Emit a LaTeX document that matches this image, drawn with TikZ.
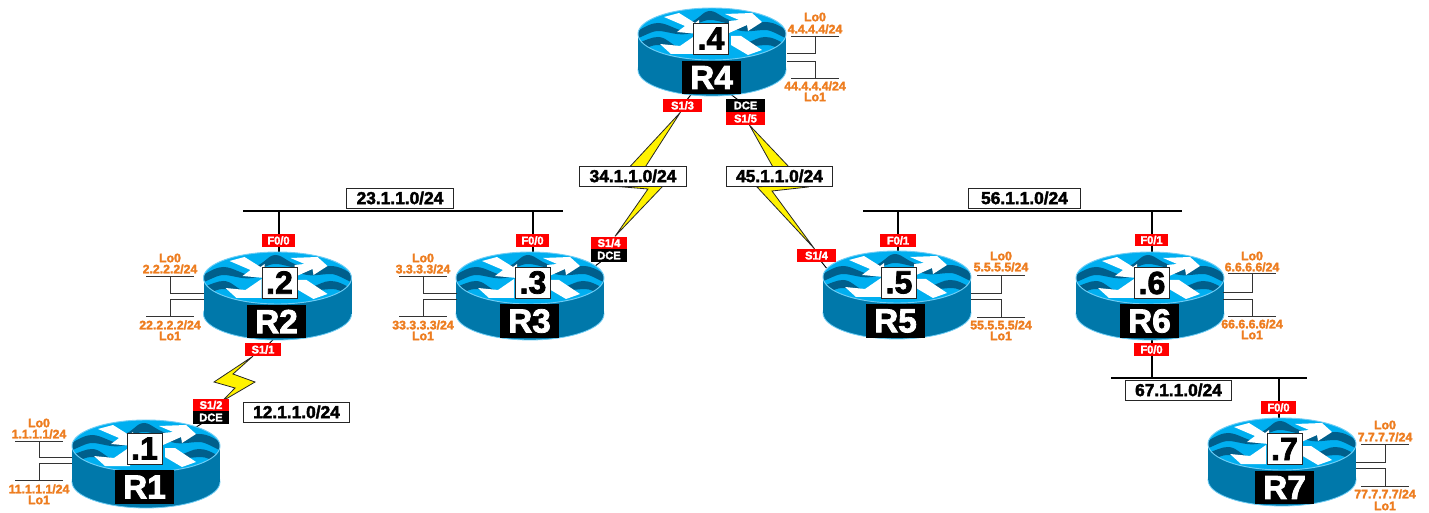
\documentclass[tikz,border=0pt]{standalone}
\usepackage{fontspec}
\usetikzlibrary{calc, backgrounds}
\setmainfont{Liberation Sans}
\newfontfamily\heavyfont[BoldFeatures={FakeBold=2.4}]{Liberation Sans}
\definecolor{rim}{RGB}{110, 205, 245}
\definecolor{body}{RGB}{0, 120, 170}
\definecolor{sky}{RGB}{0, 175, 240}
\definecolor{wave}{RGB}{0, 95, 140}
\definecolor{loop}{RGB}{237, 125, 32}
\tikzset{
  wire/.style={color=black!80, line width=0.65pt},
  lan/.style={color=black, line width=1.5pt},
  stub/.style={color=black, line width=0.7pt},
  bolt/.style={fill=yellow, draw=black!85, line width=0.6pt, line join=miter},
  tagbox/.style={fill=red, text=white, inner sep=0pt, minimum width=27pt, minimum height=9.6pt,
    font=\heavyfont\bfseries\fontsize{8.3}{8.3}\selectfont},
  tagwide/.style={tagbox, minimum width=29.2pt},
  tagthin/.style={tagbox, minimum width=25pt},
  dcebox/.style={tagbox, fill=black},
  dcewide/.style={tagwide, fill=black},
  netbox/.style={fill=white, draw=black!85, line width=0.7pt, inner sep=0pt, minimum width=80pt, minimum height=15pt,
    font=\heavyfont\bfseries\fontsize{13}{13}\selectfont},
  dotbox/.style={fill=white, draw=black!85, line width=0.5pt, inner sep=0pt, minimum width=26.2pt, minimum height=23.2pt,
    font=\heavyfont\bfseries\fontsize{24}{24}\selectfont},
  namebox/.style={fill=black, text=white, inner sep=0pt, minimum width=44.2pt, minimum height=25pt,
    font=\heavyfont\bfseries\fontsize{25}{25}\selectfont},
  lolabel/.style={text=loop, inner sep=0pt, font=\heavyfont\bfseries\fontsize{9.2}{9.2}\selectfont},
}
\newcommand{\routerbody}[2]{
  \begin{scope}[shift={(#1, #2)}]
    \draw[rim, fill=body, line width=0.6pt] (0, 36) ellipse (74 and 26);
    \fill[body] (-74, 0) rectangle (74, 36);
    \fill[sky] (0, 0) ellipse (74 and 26);
    \begin{scope}
      \clip (0, 0) ellipse (74 and 26);
      \fill[wave] (-26, -10) .. controls (-12, -14) and (-10, -23) .. (-2, -23)
        .. controls (6, -23) and (10, -14) .. (28, -11)
        .. controls (12, -9) and (8, -14) .. (-2, -14)
        .. controls (-10, -14) and (-12, -9) .. cycle;
      \fill[wave] (-76, -2) .. controls (-66, -8) and (-60, -11) .. (-54, -11)
        .. controls (-44, -11) and (-36, -3) .. (-20, -1)
        .. controls (-34, 3) and (-44, -3) .. (-54, -3)
        .. controls (-60, -3) and (-68, 2) .. (-76, 5) -- cycle;
      \fill[wave] (76, -2) .. controls (68, -9) and (60, -12) .. (53, -12)
        .. controls (42, -12) and (34, -8) .. (20, -6)
        .. controls (32, 0) and (42, -4) .. (53, -4)
        .. controls (60, -4) and (68, 2) .. (76, 5) -- cycle;
      \fill[wave] (-76, 10) .. controls (-66, 6) and (-60, 3) .. (-54, 3)
        .. controls (-46, 3) and (-42, 10) .. (-32, 14)
        .. controls (-42, 18) and (-46, 11) .. (-54, 11)
        .. controls (-60, 11) and (-64, 13) .. (-67, 16) -- cycle;
      \fill[wave] (76, 12) .. controls (66, 6) and (60, 3) .. (53, 3)
        .. controls (46, 3) and (42, 7) .. (33, 9)
        .. controls (38, 14) and (46, 11) .. (55, 11)
        .. controls (60, 11) and (66, 14) .. (70, 17) -- cycle;
    \end{scope}
    \fill[white] (-48, -17) -- (-33, -21) -- (-17, -11) -- (-13, -14) -- (-13, 0)
      -- (-35, -2) -- (-27, -8) -- cycle;
    \fill[white] (13, -20) -- (40, -21) -- (50, -12) -- (36, -3) -- (35, -9)
      -- (17, -1) -- (17, -13) -- (27, -14) -- cycle;
    \fill[white] (-52, 10) -- (-32, 12) -- (-16, 1) -- (-16, 20) -- (-41, 20) -- cycle;
    \fill[white] (19, 2) -- (29, 2) -- (50, 16) -- (36, 21) -- (19, 11) -- cycle;
    \draw[rim, line width=0.7pt] (0, 0) ellipse (74 and 26);
  \end{scope}
}
\begin{document}
\begin{tikzpicture}[x=0.75pt, y=-0.75pt]

  \useasboundingbox (0, 0) rectangle (1429, 513);

  \foreach \n/\cx/\cy/\nx/\ny/\lx/\ly in {
    1/146/446/144.5/448.5/144.5/487,
    2/277.5/278/279.5/282.5/276.5/321.5,
    3/530/278/533/282.5/529.5/321,
    4/712/34/711/38.5/711.5/77.5,
    5/897/277/899/282.5/895.5/321,
    6/1150/278/1152/283/1149.5/321,
    7/1282/444/1284.5/449/1284.5/487.5} {
    \routerbody{\cx}{\cy}
    \coordinate (R\n top) at (\cx, {\cy-26});
    \node[dotbox] (dot\n) at (\nx, \ny) {.\n};
    \node[namebox] (R\n) at (\lx, \ly) {R\n};
  }

  % loopbacks
  \foreach \n/\edge/\stem/\ya/\yb/\yc/\yd/\la/\lb/\lc/\ld/\ipa/\ipb in {
    1/72/39/441/457/463/480/423/434/489/500/1.1.1.1/11.1.1.1,
    2/204/170/276/293/299/316/258/269/325/336/2.2.2.2/22.2.2.2,
    3/457/423/276/293/299/316/258/269/325/336/3.3.3.3/33.3.3.3,
    4/787/815/36/53/61/78/17/29/86/97/4.4.4.4/44.4.4.4,
    5/971/1001/275/293/299/317/256/267/325/336/5.5.5.5/55.5.5.5,
    6/1223/1252/273/292/299/316/256/267/324/335/6.6.6.6/66.6.6.6,
    7/1356/1385/444/462/468/486/425/437/494/506/7.7.7.7/77.7.7.7} {
    \node[lolabel] (lo\n a) at (\stem, \la) {Lo0};
    \node[lolabel] (ip\n a) at (\stem, \lb) {\ipa/24};
    \node[lolabel] (ip\n b) at (\stem, \lc) {\ipb/24};
    \node[lolabel] (lo\n b) at (\stem, \ld) {Lo1};
    \draw[wire] ({\stem-24}, \ya) -- ({\stem+24}, \ya);
    \draw[wire] ({\stem-24}, \yd) -- ({\stem+24}, \yd);
    \draw[wire] (\edge, \yb) -| (\stem, \ya);
    \draw[wire] (\edge, \yc) -| (\stem, \yd);
  }

  \node[tagwide] (S13) at (682.5, 105.5) {S1/3};
  \node[dcewide] (D45) at (745.5, 105.5) {DCE};
  \node[tagwide] (S15) at (745.5, 118.5) {S1/5};
  \node[tagbox] (S34) at (609, 243) {S1/4};
  \node[dcebox] (D34) at (609, 255.5) {DCE};
  \node[tagwide] (S54) at (816.5, 255.5) {S1/4};
  \node[tagbox] (S11) at (263, 349.5) {S1/1};
  \node[tagbox] (S12) at (211, 405) {S1/2};
  \node[dcebox] (D12) at (211, 417.5) {DCE};
  \node[tagthin] (F2) at (278.5, 240.5) {F0/0};
  \node[tagthin] (F3) at (532.5, 240.5) {F0/0};
  \node[tagbox] (F5) at (898, 240.5) {F0/1};
  \node[tagthin] (F6a) at (1151.5, 240) {F0/1};
  \node[tagbox, minimum width=26.2pt] (F6b) at (1151.5, 349.5) {F0/0};
  \node[tagbox, minimum width=26.2pt] (F7) at (1278.5, 407.5) {F0/0};

  \node[netbox] (net23) at (400, 198) {23.1.1.0/24};
  \node[netbox] (net34) at (633, 176) {34.1.1.0/24};
  \node[netbox] (net45) at (779.5, 176) {45.1.1.0/24};
  \node[netbox] (net12) at (296.5, 412) {12.1.1.0/24};
  \node[netbox, minimum width=84pt] (net56) at (1024.5, 198) {56.1.1.0/24};
  \node[netbox] (net67) at (1178.5, 390) {67.1.1.0/24};

  \coordinate (bar23a) at (243, 211);
  \coordinate (bar23b) at (563, 211);
  \coordinate (bar56a) at (863, 211);
  \coordinate (bar56b) at (1182, 211);
  \coordinate (bar67a) at (1111, 378);
  \coordinate (bar67b) at (1307, 378);

  \begin{scope}[on background layer]
    \draw[lan] (bar23a) -- (bar23b);
    \draw[lan] (bar56a) -- (bar56b);
    \draw[lan] (bar67a) -- (bar67b);

    \draw[lan] (F2 |- bar23a) -- (F2 |- R2top);
    \draw[lan] (F3 |- bar23a) -- (F3 |- R3top);
    \draw[lan] (F5 |- bar56a) -- (F5 |- R5top);
    \draw[lan] (F6a |- bar56a) -- (F6a |- R6top);
    \draw[lan] (F6b |- R6.south) -- (F6b |- bar67a);
    \draw[lan] (F7 |- bar67a) -- (F7 |- R7top);

    \draw[stub] (S13.center) -- ($(R4.south west)+(11, -2)$);
    \draw[stub] (D45.center) -- ($(R4.south east)+(-13, -2)$);
    \draw[stub] (S11.center) -- ($(R2.south)+(0, -2)$);
    \draw[stub] (D12.center) -- ($(D12.south)+(-18, 5)$);
    \draw[stub] (D34.center) -- ($(D34.south)+(-14, 4)$);
    \draw[stub] (S54.center) -- ($(S54.south)+(10, 6)$);

    \filldraw[bolt] ($(S11.south)+(-10, 0)$) -- (214, 382) -- (235, 388)
      -- ($(S12.north)+(11, 3)$) -- (255, 382) -- (233, 374) -- cycle;
    \filldraw[bolt] ($(S13.south)+(-2, 0)$) -- (612, 186) -- (648, 189)
      -- ($(S34.north)+(6, 0)$) -- (663, 186) -- (635, 183) -- cycle;
    \filldraw[bolt] ($(S15.south)+(4, 0)$) -- (808, 187) -- (772, 191)
      -- ($(S54.north)+(-2, 0)$) -- (757, 187) -- (783, 185) -- cycle;
  \end{scope}

\end{tikzpicture}
\end{document}
